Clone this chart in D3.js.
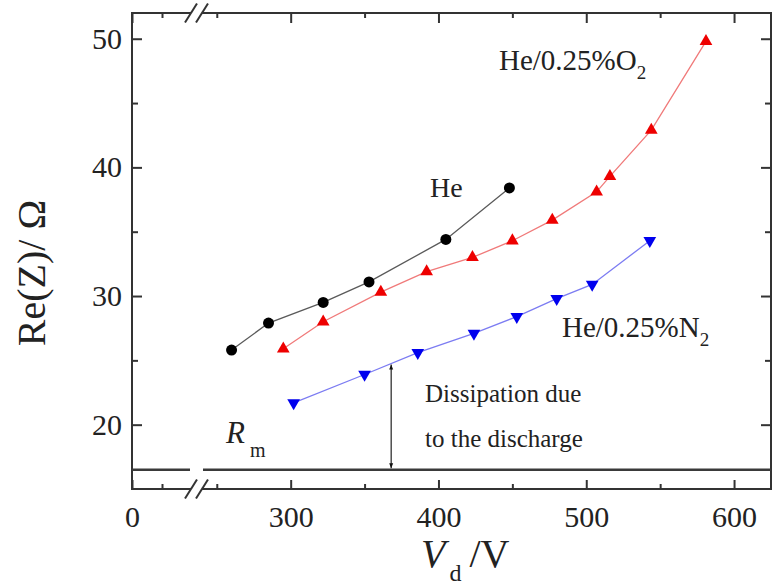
<!DOCTYPE html>
<html>
<head>
<meta charset="utf-8">
<script src="https://cdn.jsdelivr.net/npm/d3@7"></script>
<style>
  html, body { margin: 0; padding: 0; background: #fff; }
  svg { display: block; }
  text { font-family: "Liberation Serif", "Times New Roman", serif; fill: #222; }
</style>
</head>
<body>
<svg id="chart" width="773" height="586"></svg>
<script>
// Re(Z) versus discharge voltage for three gas mixtures
const heV  = [260, 285, 322, 353, 405, 448];
const heZ  = [25.8, 27.9, 29.5, 31.1, 34.4, 38.4];

const o2V  = [295, 322, 361, 392, 423, 450, 477, 507, 516, 544, 581];
const o2Z  = [25.9, 28.0, 30.3, 31.9, 33.0, 34.3, 35.9, 38.1, 39.3, 42.9, 49.8];

const n2V  = [302, 350, 386, 424, 453, 480, 504, 543];
const n2Z  = [21.7, 23.9, 25.6, 27.1, 28.4, 29.8, 30.9, 34.3];

const rmZ  = 16.5;      // matching-network resistance R_m
const arrowV = 368;     // voltage where the dissipation arrow is drawn

const xMajor = [0, 300, 400, 500, 600];
const xMinor = [50, 250, 350, 450, 550];
const yMajor = [20, 30, 40, 50];
const yMinor = [25, 35, 45];

const svg = d3.select("#chart");
const L = 132, R = 771, T = 13, B = 489;
const breakLo = 190, breakHi = 203;

// broken x axis: 0–100 on a short segment, 240–625 on the main segment
const x = d3.scaleLinear().domain([0, 100, 240, 625]).range([L, 192, 202, R]);
const y = d3.scaleLinear().domain([15, 52]).range([B, T]);

const frameColor = "#333";

// ticks (all pointing inward)
function tickAxis(axis, tx, ty, vals, size, labels, pad) {
  const g = svg.append("g").attr("transform", `translate(${tx},${ty})`)
    .call(axis.tickValues(vals).tickSize(size).tickPadding(pad || 3)
      .tickFormat(labels ? d3.format("d") : ""));
  g.attr("font-family", null);
  g.select(".domain").remove();
  g.selectAll(".tick line").attr("stroke", frameColor).attr("stroke-width", 2);
  g.selectAll(".tick text").attr("font-size", 30).attr("fill", "#222")
    .style("font-family", '"Liberation Serif", serif');
  return g;
}
tickAxis(d3.axisBottom(x), 0, B, xMajor, -9, true, 17);
tickAxis(d3.axisBottom(x), 0, B, xMinor, -5, false);
tickAxis(d3.axisTop(x), 0, T, xMajor, -10, false);
tickAxis(d3.axisTop(x), 0, T, xMinor, -5, false);
tickAxis(d3.axisLeft(y), L, 0, yMajor, -10, true, 10);
tickAxis(d3.axisLeft(y), L, 0, yMinor, -6, false);
tickAxis(d3.axisRight(y), R, 0, yMajor, -10, false);
tickAxis(d3.axisRight(y), R, 0, yMinor, -6, false);

// frame with gaps at the axis break
const frame = svg.append("g").attr("stroke", frameColor).attr("stroke-width", 2)
  .attr("fill", "none").attr("stroke-linecap", "square");
frame.append("line").attr("x1", L).attr("x2", L).attr("y1", T).attr("y2", B);
frame.append("line").attr("x1", R).attr("x2", R).attr("y1", T).attr("y2", B);
[T, B].forEach(yy => {
  frame.append("line").attr("x1", L).attr("x2", breakLo).attr("y1", yy).attr("y2", yy);
  frame.append("line").attr("x1", breakHi).attr("x2", R).attr("y1", yy).attr("y2", yy);
  [191, 202].forEach(cx => {
    frame.append("line").attr("stroke-linecap", "butt")
      .attr("x1", cx - 6).attr("y1", yy + 9.5)
      .attr("x2", cx + 6).attr("y2", yy - 9.5);
  });
});

// R_m reference line
const rmG = svg.append("g").attr("stroke", "#3a3a3a").attr("stroke-width", 2.5);
rmG.append("line").attr("x1", L).attr("x2", breakLo).attr("y1", y(rmZ)).attr("y2", y(rmZ));
rmG.append("line").attr("x1", breakHi).attr("x2", R).attr("y1", y(rmZ)).attr("y2", y(rmZ));

// series
const series = [
  { v: heV, z: heZ, line: "#5a5a5a", fill: "#000", shape: "circle" },
  { v: o2V, z: o2Z, line: "#f07a7a", fill: "#ee0000", shape: "up" },
  { v: n2V, z: n2Z, line: "#7c7cf2", fill: "#0000ee", shape: "down" }
];
const lineGen = d3.line().x(d => x(d[0])).y(d => y(d[1]));
series.forEach(s => {
  const pts = s.v.map((v, i) => [v, s.z[i]]);
  svg.append("path").datum(pts).attr("d", lineGen)
    .attr("fill", "none").attr("stroke", s.line).attr("stroke-width", 1.3);
  const g = svg.append("g");
  if (s.shape === "circle") {
    g.selectAll("circle").data(pts).join("circle")
      .attr("cx", d => x(d[0])).attr("cy", d => y(d[1])).attr("r", 5.5)
      .attr("fill", s.fill);
  } else {
    const sym = d3.symbol().type(d3.symbolTriangle).size(70);
    g.selectAll("path").data(pts).join("path")
      .attr("d", sym)
      .attr("transform", d => `translate(${x(d[0])},${y(d[1])})` + (s.shape === "down" ? " rotate(180)" : ""))
      .attr("fill", s.fill);
  }
});

// dissipation arrow from R_m up to the He/N2 curve
const arrowTop = d3.scaleLinear().domain(n2V).range(n2Z)(arrowV);
const defs = svg.append("defs");
defs.append("marker").attr("id", "ah").attr("viewBox", "0 0 10 10")
  .attr("refX", 10).attr("refY", 5).attr("markerWidth", 5).attr("markerHeight", 7)
  .attr("markerUnits", "userSpaceOnUse").attr("orient", "auto-start-reverse")
  .append("path").attr("d", "M0,1 L10,5 L0,9 Z").attr("fill", "#111");
svg.append("line")
  .attr("x1", x(arrowV)).attr("x2", x(arrowV))
  .attr("y1", y(arrowTop) + 1).attr("y2", y(rmZ) - 1.5)
  .attr("stroke", "#222").attr("stroke-width", 1.2)
  .attr("marker-start", "url(#ah)").attr("marker-end", "url(#ah)");

// annotations
svg.append("text").attr("x", 430).attr("y", 197).attr("font-size", 28).text("He");

const o2 = svg.append("text").attr("x", 499).attr("y", 70).attr("font-size", 29);
o2.append("tspan").text("He/0.25%O");
o2.append("tspan").attr("font-size", 19).attr("dy", 9).text("2");

const n2 = svg.append("text").attr("x", 562).attr("y", 337).attr("font-size", 29);
n2.append("tspan").text("He/0.25%N");
n2.append("tspan").attr("font-size", 19).attr("dy", 9).text("2");

svg.append("text").attr("x", 425).attr("y", 402).attr("font-size", 25).text("Dissipation due");
svg.append("text").attr("x", 425).attr("y", 447).attr("font-size", 25).text("to the discharge");

const rm = svg.append("text").attr("x", 226).attr("y", 443).attr("font-size", 31);
rm.append("tspan").attr("font-style", "italic").text("R");
rm.append("tspan").attr("font-size", 20).attr("dx", 5).attr("dy", 14).text("m");

// axis titles
svg.append("text")
  .attr("transform", "translate(45,273) rotate(-90)")
  .attr("text-anchor", "middle").attr("font-size", 40)
  .text("Re(Z)/ Ω");

const xt = svg.append("text").attr("x", 421).attr("y", 567).attr("font-size", 40);
xt.append("tspan").attr("font-style", "italic").text("V");
xt.append("tspan").attr("font-size", 24).attr("dx", 4).attr("dy", 14).text("d");
xt.append("tspan").attr("dx", 8).attr("dy", -14).text("/V");
</script>
</body>
</html>
